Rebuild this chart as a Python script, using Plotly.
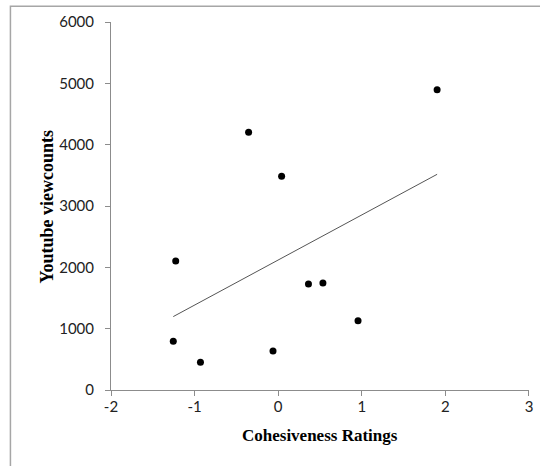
import numpy as np
import plotly.graph_objects as go

# Data
cohesiveness = [-1.255, -1.226, -0.93, -0.354, 0.041, -0.062, 0.362, 0.535, 0.955, 1.901]
viewcounts = [793, 2105, 453, 4204, 3486, 637, 1727, 1743, 1128, 4895]
x_ticks = [-2, -1, 0, 1, 2, 3]
x_tick_labels = ["-2", "-1", "0", "1", "2", "3"]
y_ticks = [0, 1000, 2000, 3000, 4000, 5000, 6000]
y_tick_labels = ["0", "1000", "2000", "3000", "4000", "5000", "6000"]

# Linear trendline (least squares) across the data range
slope, intercept = np.polyfit(cohesiveness, viewcounts, 1)
trend_x = [min(cohesiveness), max(cohesiveness)]
trend_y = [slope * v + intercept for v in trend_x]

fig = go.Figure()
fig.add_trace(go.Scatter(
    x=trend_x, y=trend_y, mode="lines",
    line=dict(color="#555555", width=1), hoverinfo="skip", showlegend=False))
fig.add_trace(go.Scatter(
    x=cohesiveness, y=viewcounts, mode="markers",
    marker=dict(color="black", size=7), showlegend=False))

axis_common = dict(
    showline=True, linecolor="#8c8c8c", linewidth=1,
    ticks="outside", ticklen=5, tickcolor="#8c8c8c", tickwidth=1,
    showgrid=False, zeroline=False, ticklabeloverflow="allow",
    tickfont=dict(family="Lato", size=15, color="#222222"),
)

fig.update_xaxes(range=[-2, 3.0001], tickvals=x_ticks, ticktext=x_tick_labels,
                 ticklabelstandoff=-2, **axis_common)
fig.update_yaxes(range=[0, 6000.01], tickvals=y_ticks, ticktext=y_tick_labels,
                 ticklabelstandoff=8, **axis_common)

fig.update_layout(
    width=540, height=466,
    margin=dict(l=111, r=11, t=22, b=76, autoexpand=False),
    paper_bgcolor="white", plot_bgcolor="white",
    annotations=[
        dict(text="<b>Cohesiveness Ratings</b>", xref="paper", yref="paper",
             x=0.5, y=-0.124, xanchor="center", yanchor="middle",
             showarrow=False,
             font=dict(family="Liberation Serif", size=17, color="black")),
        dict(text="<b>Youtube viewcounts</b>", xref="paper", yref="paper",
             x=-0.152, y=0.5, xanchor="center", yanchor="middle",
             textangle=-90, showarrow=False,
             font=dict(family="Liberation Serif", size=18, color="black")),
    ],
    shapes=[
        dict(type="rect", xref="paper", yref="paper",
             x0=-0.2406, x1=1.04, y0=-0.22, y1=1.0426,
             line=dict(color="#a6a6a6", width=1.5), layer="below"),
    ],
)

fig.write_html("out.html", config={"displayModeBar": False},
               post_script="document.body.style.margin='0px';document.body.style.overflow='hidden';")
